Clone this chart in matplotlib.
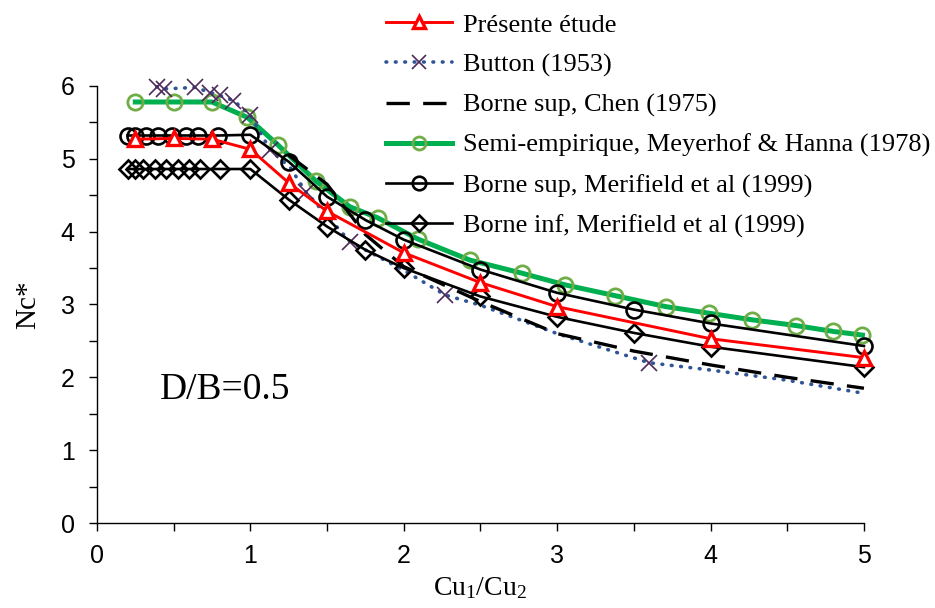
import matplotlib
matplotlib.use('Agg')
import matplotlib.pyplot as plt
import numpy as np

# Data (Nc* vs Cu1/Cu2, D/B = 0.5)
x_present = [0.25, 0.5, 0.75, 1.0, 1.25, 1.5, 2.0, 2.5, 3.0, 4.0, 5.0]
nc_present = [5.27, 5.28, 5.27, 5.13, 4.67, 4.28, 3.71, 3.30, 2.97, 2.53, 2.27]

x_button = [0.39, 0.44, 0.64, 0.74, 0.80, 0.89, 1.0, 1.13, 1.26, 1.36, 1.65, 2.0, 2.27, 2.5, 3.0, 3.6, 4.0, 4.5, 5.0]
nc_button = [5.99, 5.96, 5.98, 5.91, 5.87, 5.80, 5.60, 5.12, 4.88, 4.55, 3.86, 3.47, 3.13, 2.99, 2.60, 2.20, 2.10, 1.96, 1.78]
button_marks = [0, 1, 2, 3, 4, 5, 6, 7, 9, 10, 12, 15]

x_chen = [1.25, 1.5, 1.75, 2.0, 2.5, 3.0, 3.5, 4.0, 4.5, 5.0]
nc_chen = [5.05, 4.65, 3.96, 3.52, 3.04, 2.60, 2.36, 2.17, 2.00, 1.85]

x_meyer = [0.25, 0.5, 0.75, 0.98, 1.18, 1.43, 1.65, 1.83, 2.09, 2.43, 2.77, 3.05, 3.38, 3.71, 3.99, 4.27, 4.56, 4.80, 4.99]
nc_meyer = [5.78, 5.78, 5.78, 5.57, 5.19, 4.69, 4.34, 4.19, 3.90, 3.61, 3.43, 3.27, 3.12, 2.97, 2.88, 2.79, 2.71, 2.63, 2.58]

x_msup = [0.2, 0.25, 0.32, 0.4, 0.49, 0.58, 0.66, 0.79, 1.0, 1.25, 1.5, 1.75, 2.0, 2.5, 3.0, 3.5, 4.0, 5.0]
nc_msup = [5.32, 5.32, 5.32, 5.32, 5.32, 5.32, 5.32, 5.32, 5.33, 4.96, 4.48, 4.16, 3.89, 3.48, 3.16, 2.93, 2.74, 2.43]

x_minf = [0.2, 0.25, 0.3, 0.38, 0.45, 0.53, 0.6, 0.67, 0.8, 1.0, 1.25, 1.5, 1.75, 2.0, 2.5, 3.0, 3.5, 4.0, 5.0]
nc_minf = [4.86, 4.86, 4.86, 4.86, 4.86, 4.86, 4.86, 4.86, 4.86, 4.86, 4.44, 4.07, 3.75, 3.50, 3.11, 2.83, 2.61, 2.42, 2.14]

serif = ['Liberation Serif', 'DejaVu Serif']
narrow = ['Liberation Sans Narrow', 'Liberation Sans', 'DejaVu Sans']
plt.rcParams['mathtext.fontset'] = 'custom'
plt.rcParams['mathtext.rm'] = 'Liberation Serif'
plt.rcParams['mathtext.it'] = 'Liberation Serif:italic'

fig = plt.figure(figsize=(9.35, 6.08), dpi=100)
ax = fig.add_axes([0.1037, 0.1398, 0.8203, 0.7188])

ax.plot(x_present, nc_present, color='#FF0000', lw=2.1, marker='^', ms=10.5,
        mfc='white', mec='#FF0000', mew=2.4, label='Présente étude',
        clip_on=False, zorder=5)
ax.plot(x_button, nc_button, color='#2F5597', lw=2.6, dashes=(0.2, 2.4),
        dash_capstyle='round', marker='x', ms=12, mec='#4E2A5A', mew=1.2,
        markevery=button_marks, label='Button (1953)', clip_on=False, zorder=3)
ax.plot(x_chen, nc_chen, color='black', lw=2.4, dashes=(7, 4),
        label='Borne sup, Chen (1975)', clip_on=False, zorder=4)
ax.plot(x_meyer, nc_meyer, color='#00B050', lw=3.6, marker='o', ms=11,
        mfc='none', mec='#70AD47', mew=2.0,
        label='Semi-empirique, Meyerhof & Hanna (1978)', clip_on=False, zorder=2)
ax.plot(x_msup, nc_msup, color='black', lw=1.9, marker='o', ms=11.5,
        mfc='none', mec='black', mew=1.9,
        label='Borne sup, Merifield et al (1999)', clip_on=False, zorder=4)
ax.plot(x_minf, nc_minf, color='black', lw=1.9, marker='D', ms=9,
        mfc='none', mec='black', mew=1.9,
        label='Borne inf, Merifield et al (1999)', clip_on=False, zorder=4)

ax.set_xlim(0, 5)
ax.set_ylim(0, 6)
ax.set_xticks(np.arange(0, 6, 1))
ax.set_xticks(np.arange(0.5, 5, 1), minor=True)
ax.set_yticks(np.arange(0, 7, 1))
ax.set_yticks(np.arange(0.5, 6, 1), minor=True)
ax.spines['top'].set_visible(False)
ax.spines['right'].set_visible(False)
for s in ['left', 'bottom']:
    ax.spines[s].set_linewidth(1.0)
ax.tick_params(axis='both', which='both', direction='out', length=6, width=1.0)
ax.tick_params(axis='x', which='major', pad=9)
ax.tick_params(axis='y', which='major', pad=10)
for lab in ax.get_xticklabels() + ax.get_yticklabels():
    lab.set_family(narrow)
    lab.set_fontsize(18)

ax.set_xlabel(r'Cu$_1$/Cu$_2$', family=serif, fontsize=20, labelpad=5)
ax.set_ylabel('Nc*', family=serif, fontsize=21, labelpad=14)
ax.text(0.41, 1.83, 'D/B=0.5', family=serif, fontsize=27, va='center', ha='left')

fig.legend(loc='upper right', bbox_to_anchor=(1.009, 1.0), frameon=False,
           prop={'family': serif, 'size': 19}, handlelength=2.5,
           handletextpad=0.4, labelspacing=0.62, borderaxespad=0.1,
           markerscale=0.85)

fig.savefig('out.png', dpi=100)
